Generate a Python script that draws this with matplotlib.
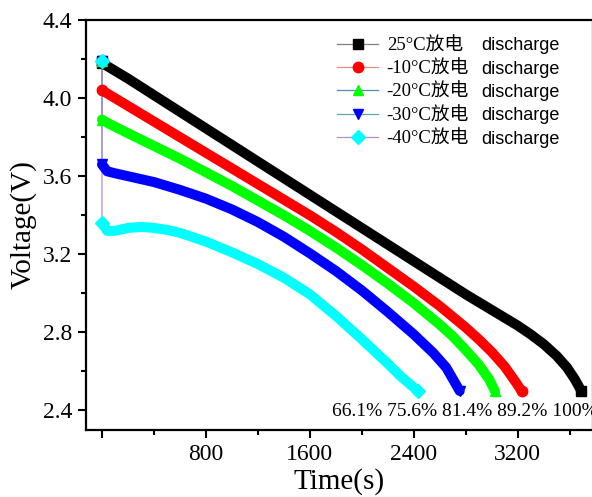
import matplotlib
matplotlib.use("Agg")
import matplotlib.pyplot as plt
from matplotlib.lines import Line2D
from matplotlib.ticker import MultipleLocator

# ---- data ----
v_initial = 4.19
t_25 = [0, 200, 400, 600, 800, 1000, 1200, 1400, 1600, 1800, 2000, 2200, 2400, 2600, 2800,
        3000, 3200, 3300, 3400, 3500, 3580, 3640, 3690]
v_25 = [4.18, 4.10, 4.015, 3.93, 3.845, 3.76, 3.675, 3.59, 3.505, 3.42, 3.335, 3.25, 3.165, 3.08, 2.995,
        2.915, 2.835, 2.79, 2.74, 2.68, 2.62, 2.56, 2.50]
t_m10 = [0, 100, 200, 400, 600, 800, 1000, 1200, 1400, 1600, 1800, 2000, 2200, 2400, 2600,
         2800, 2900, 3000, 3100, 3180, 3230]
v_m10 = [4.04, 4.00, 3.96, 3.88, 3.80, 3.72, 3.64, 3.56, 3.48, 3.40, 3.315, 3.225, 3.13, 3.035, 2.935,
         2.825, 2.765, 2.70, 2.625, 2.55, 2.50]
t_m20 = [0, 50, 200, 400, 600, 800, 1000, 1200, 1400, 1600, 1800, 2000, 2200, 2400, 2600,
         2700, 2800, 2900, 2980, 3025]
v_m20 = [3.89, 3.87, 3.82, 3.755, 3.69, 3.62, 3.55, 3.475, 3.40, 3.32, 3.235, 3.145, 3.05, 2.95, 2.84,
         2.78, 2.71, 2.635, 2.56, 2.50]
t_m30 = [0, 40, 100, 200, 400, 600, 800, 1000, 1200, 1400, 1600, 1800, 2000, 2200, 2400,
         2550, 2650, 2754]
v_m30 = [3.66, 3.625, 3.615, 3.60, 3.57, 3.53, 3.485, 3.43, 3.365, 3.29, 3.205, 3.115, 3.015, 2.905, 2.79,
         2.695, 2.62, 2.50]
t_m40 = [0, 40, 100, 200, 300, 400, 500, 600, 800, 1000, 1200, 1400, 1600, 1800, 2000,
         2200, 2300, 2431]
v_m40 = [3.36, 3.32, 3.32, 3.335, 3.34, 3.335, 3.325, 3.31, 3.265, 3.21, 3.15, 3.08, 2.995, 2.885, 2.765,
         2.64, 2.575, 2.50]

labels = ["25°C放电", "-10°C放电", "-20°C放电", "-30°C放电", "-40°C放电"]
suffix = "discharge"
pct_text = "66.1% 75.6% 81.4% 89.2% 100%"
xtick_vals = [0, 800, 1600, 2400, 3200]
xtick_labels = ["", "800", "1600", "2400", "3200"]
ytick_vals = [2.4, 2.8, 3.2, 3.6, 4.0, 4.4]

series = [(t_25, v_25), (t_m10, v_m10), (t_m20, v_m20), (t_m30, v_m30), (t_m40, v_m40)]
mcolors = ["#000000", "#ff0000", "#00ff00", "#0000ff", "#00ffff"]
lcolors = ["#808080", "#f08a8a", "#4a8fb0", "#5fa8a8", "#b88ad0"]
markers = ["s", "o", "^", "v", "D"]

serif = ["Liberation Serif", "Noto Sans CJK SC"]
plt.rcParams["font.family"] = serif

fig = plt.figure(figsize=(5.92, 4.97), dpi=100)
ax = fig.add_axes([86 / 592, 1 - 430 / 497, 507 / 592, 410 / 497])

for (t, v), mc, lc, mk in zip(series, mcolors, lcolors, markers):
    ax.plot([t[0]] + list(t), [v_initial] + list(v), color=lc, lw=0.9, zorder=2)
    ax.plot(t, v, color=mc, lw=7.2, solid_capstyle="round", solid_joinstyle="round", zorder=3)
    ax.plot([t[0], t[-1]], [v[0], v[-1]], ls="none", marker=mk, ms=7.5, color=mc, zorder=4)
    ax.plot([t[0]], [v_initial], ls="none", marker=mk, ms=7.5, color=mc, zorder=4)

ax.set_xlim(-123, 3780)
ax.set_ylim(2.30, 4.40)
ax.set_xticks(xtick_vals)
ax.set_xticklabels(xtick_labels)
ax.set_yticks(ytick_vals)
ax.set_yticklabels([f"{y:.1f}" for y in ytick_vals])
ax.xaxis.set_minor_locator(MultipleLocator(400))
ax.yaxis.set_minor_locator(MultipleLocator(0.2))
ax.tick_params(which="major", direction="out", length=6, width=1.5, labelsize=17, pad=4)
ax.tick_params(which="minor", direction="out", length=3.5, width=1.5)
ax.tick_params(top=False, right=False)
for s in ax.spines.values():
    s.set_linewidth(1.6)

ax.set_xlabel("Time(s)", fontsize=21, labelpad=2)
ax.set_ylabel("Voltage(V)", fontsize=21, labelpad=4)

ax.text(1769, 2.395, pct_text, fontsize=14, ha="left", va="center")

handles = [Line2D([], [], color=lc, lw=0.9, marker=mk, ms=7.5, mfc=mc, mec=mc)
           for mc, lc, mk in zip(mcolors, lcolors, markers)]
leg = ax.legend(handles, labels, loc="upper left", bbox_to_anchor=(0.495, 0.958),
                frameon=False, fontsize=13.5, handlelength=2.2, handletextpad=0.45,
                labelspacing=0.33, borderpad=0, borderaxespad=0)

fig.canvas.draw()
inv = ax.transAxes.inverted()
x_ax = inv.transform((481, 0))[0]
for txt in leg.get_texts():
    bb = txt.get_window_extent()
    yc = inv.transform((0, (bb.y0 + bb.y1) / 2))[1]
    ax.text(x_ax, yc, suffix, transform=ax.transAxes, fontsize=13,
            family=["Liberation Sans", "DejaVu Sans"], ha="left", va="center")

fig.savefig("out.png", dpi=100)
